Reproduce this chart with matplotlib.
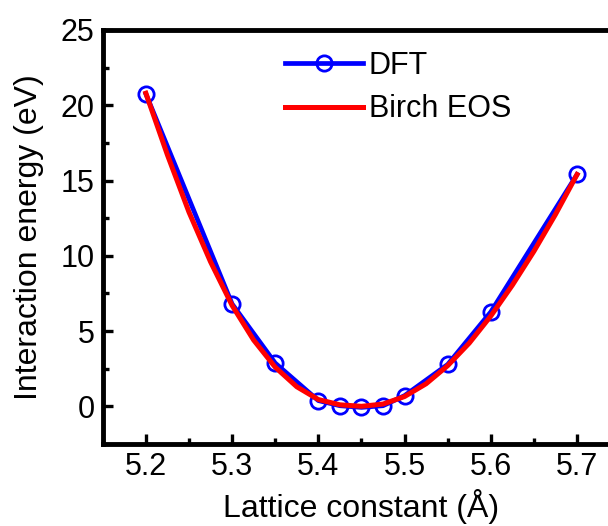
import numpy as np
import matplotlib
matplotlib.use('Agg')
from matplotlib import pyplot as plt
from matplotlib.ticker import MultipleLocator

plt.rcParams['font.family'] = ['Liberation Sans', 'DejaVu Sans']

# DFT points
dft_a = [5.2, 5.3, 5.35, 5.4, 5.425, 5.45, 5.475, 5.5, 5.55, 5.6, 5.7]
dft_e = [20.75, 6.8, 2.87, 0.38, 0.04, -0.07, 0.04, 0.71, 2.78, 6.27, 15.4]

# Birch EOS fit
eos_a = [5.2, 5.225, 5.25, 5.275, 5.3, 5.325, 5.35, 5.375, 5.4, 5.425, 5.45,
         5.475, 5.5, 5.525, 5.55, 5.575, 5.6, 5.625, 5.65, 5.675, 5.7]
eos_e = [20.8, 16.7, 12.9, 9.6, 6.7, 4.4, 2.6, 1.3, 0.45, 0.1, 0.0,
         0.15, 0.65, 1.5, 2.7, 4.2, 6.0, 8.05, 10.3, 12.75, 15.4]

fig = plt.figure(figsize=(6.08, 5.26), dpi=100)
ax = fig.add_axes([0.169, 0.156, 0.851, 0.787])

ax.plot(dft_a, dft_e, color='#0000ff', lw=3.4, marker='o', ms=11, mew=2,
        mfc='none', mec='#0000ff', label='DFT')
ax.plot(eos_a, eos_e, color='#ff0000', lw=3.6, label='Birch EOS')

ax.set_xlim(5.15, 5.75)
ax.set_ylim(-2.5, 25)
ax.xaxis.set_major_locator(MultipleLocator(0.1))
ax.xaxis.set_minor_locator(MultipleLocator(0.05))
ax.yaxis.set_major_locator(MultipleLocator(5))
ax.yaxis.set_minor_locator(MultipleLocator(2.5))
ax.tick_params(which='both', direction='in', width=2.4, labelsize=22, pad=6)
ax.tick_params(which='major', length=7.5)
ax.tick_params(which='minor', length=4)
for s in ax.spines.values():
    s.set_linewidth(3.5)

ax.set_xlabel('Lattice constant (Å)', fontsize=23, labelpad=5)
ax.set_ylabel('Interaction energy (eV)', fontsize=23, labelpad=12)

ax.legend(loc='upper left', bbox_to_anchor=(0.352, 0.95), frameon=False,
          fontsize=22, handlelength=2.55, handletextpad=0.2, borderpad=0,
          borderaxespad=0, labelspacing=0.45)

fig.savefig('out.png', dpi=100)
